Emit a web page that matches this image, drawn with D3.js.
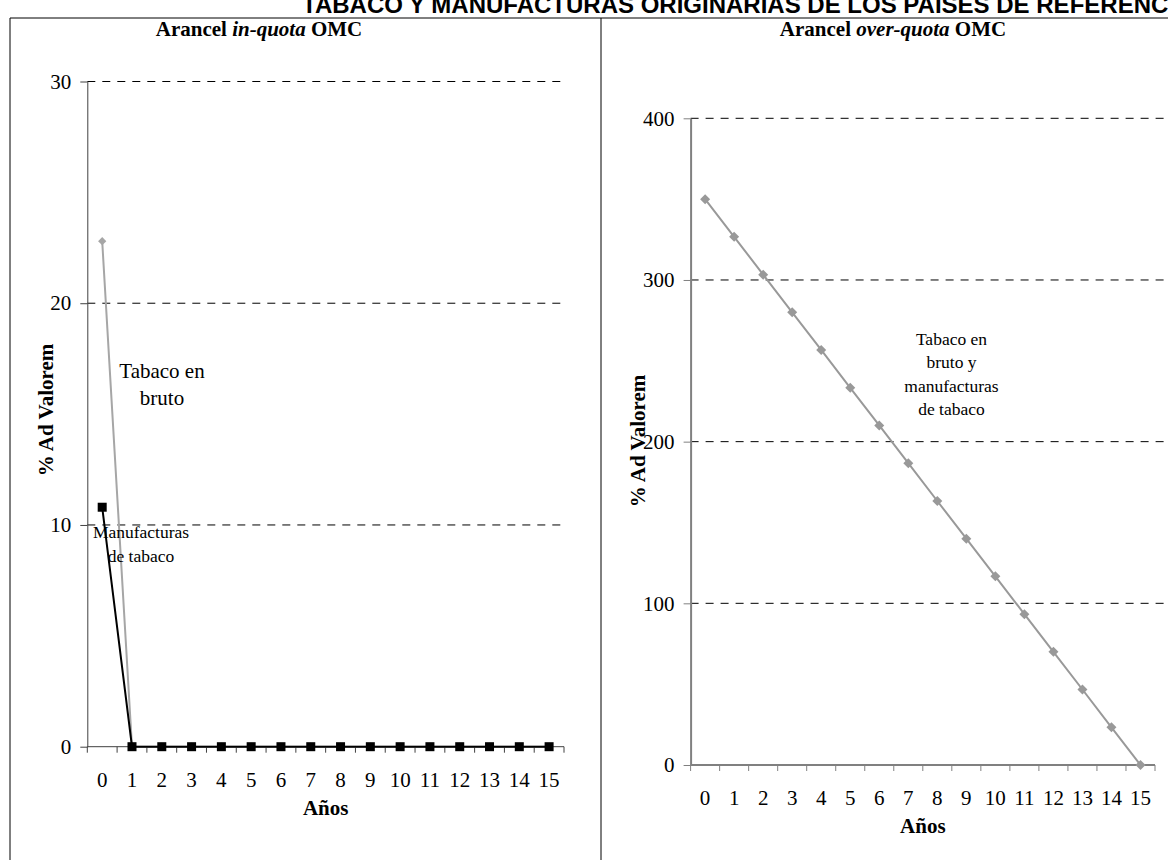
<!DOCTYPE html>
<html><head><meta charset="utf-8">
<script src="https://cdn.jsdelivr.net/npm/d3@7"></script>
<style>
html,body{margin:0;padding:0;background:#fff;overflow:hidden;}
svg{display:block;}
text{font-family:"Liberation Serif","Times New Roman",serif;fill:#000;}
</style></head>
<body>
<svg id="c" width="1168" height="860"></svg>
<script>
// ---- data ----
const years = ["0","1","2","3","4","5","6","7","8","9","10","11","12","13","14","15"];
const inQuotaBruto = [22.8,0,0,0,0,0,0,0,0,0,0,0,0,0,0,0];
const inQuotaManuf = [10.8,0,0,0,0,0,0,0,0,0,0,0,0,0,0,0];
const overQuota = [350,326.7,303.3,280,256.7,233.3,210,186.7,163.3,140,116.7,93.3,70,46.7,23.3,0];
const leftTicks = [0,10,20,30];
const rightTicks = [0,100,200,300,400];
const mainTitle = "TABACO Y MANUFACTURAS ORIGINARIAS DE LOS PAÍSES DE REFERENCIA";
const leftLabelBruto = ["Tabaco en","bruto"];
const leftLabelManuf = ["Manufacturas","de tabaco"];
const rightLabel = ["Tabaco en","bruto y","manufacturas","de tabaco"];

const svg = d3.select("#c");

// main title
svg.append("text").attr("x",302).attr("y",12.5)
  .style("font-family","'Liberation Sans',Arial,sans-serif")
  .style("font-weight","bold").style("font-size","24px")
  .text(mainTitle);

// frame
svg.append("path").attr("d","M10,860V18H1168M601,18V860")
  .attr("fill","none").attr("stroke","#000").attr("stroke-width",1);

const sq = d3.symbol(d3.symbolSquare);

function panel(opt){
  const g = svg.append("g");
  const x = d3.scaleBand().domain(years).range([opt.x0,opt.x1]).padding(0);
  const y = d3.scaleLinear().domain([0,opt.ymax]).range([opt.y0,opt.y1]);
  // title
  const t = g.append("text").attr("x",opt.tx).attr("y",36).attr("text-anchor","middle")
    .style("font-weight","bold").style("font-size","21px");
  t.append("tspan").text("Arancel ");
  t.append("tspan").style("font-style","italic").text(opt.italic);
  t.append("tspan").text(" OMC");
  // gridlines
  g.selectAll("line.grid").data(opt.ticks.filter(d=>d>0)).enter().append("line")
    .attr("x1",opt.x0).attr("x2",opt.gx1).attr("y1",d=>y(d)).attr("y2",d=>y(d))
    .attr("stroke","#000").attr("stroke-width",1).attr("stroke-dasharray","8,7");
  // y axis
  const ya = g.append("g").attr("transform",`translate(${opt.x0},0)`)
    .call(d3.axisLeft(y).tickValues(opt.ticks).tickSize(7).tickSizeOuter(0).tickPadding(9));
  ya.select(".domain").attr("stroke",opt.axisColor).attr("stroke-width",opt.axisW);
  ya.selectAll(".tick line").attr("stroke",opt.axisColor);
  ya.selectAll(".tick text").style("font-family","'Liberation Serif',serif").style("font-size","21px").attr("fill","#000");
  // x axis ticks (boundaries)
  const bounds = d3.range(years.length+1).map(i=>opt.x0+i*x.bandwidth());
  g.append("line").attr("x1",opt.x0).attr("x2",opt.x1).attr("y1",opt.y0).attr("y2",opt.y0)
    .attr("stroke",opt.axisColor).attr("stroke-width",opt.axisW);
  g.selectAll("line.xt").data(bounds).enter().append("line")
    .attr("x1",d=>d).attr("x2",d=>d).attr("y1",opt.y0).attr("y2",opt.y0+6)
    .attr("stroke",opt.axisColor).attr("stroke-width",1);
  g.selectAll("text.xl").data(years).enter().append("text")
    .attr("x",d=>x(d)+x.bandwidth()/2).attr("y",opt.y0+40).attr("text-anchor","middle")
    .style("font-size","21px").text(d=>d);
  g.append("text").attr("x",(opt.x0+opt.x1)/2).attr("y",opt.y0+68).attr("text-anchor","middle")
    .style("font-weight","bold").style("font-size","21px").text("Años");
  // y title
  g.append("text").attr("transform",`translate(${opt.ytx},${opt.yty}) rotate(-90)`)
    .attr("text-anchor","middle").style("font-weight","bold").style("font-size","21px").text("% Ad Valorem");
  return {g,x,y};
}

// left panel
const L = panel({x0:87.3,x1:564,gx1:565,y0:746.7,y1:81.5,ymax:30,ticks:leftTicks,
  tx:259,italic:"in-quota",axisColor:"#404040",axisW:1,ytx:53,yty:410});
const cxL = (d,i)=>L.x(years[i])+L.x.bandwidth()/2;
const lineL = d3.line().x(cxL).y(d=>L.y(d));
L.g.append("path").attr("d",lineL(inQuotaBruto)).attr("fill","none").attr("stroke","#a6a6a6").attr("stroke-width",2);
L.g.selectAll("path.dm").data(inQuotaBruto).enter().append("path")
  .attr("d",sq.size(34)())
  .attr("transform",(d,i)=>`translate(${cxL(d,i)},${L.y(d)}) rotate(45)`)
  .attr("fill","#a6a6a6");
L.g.append("path").attr("d",lineL(inQuotaManuf)).attr("fill","none").attr("stroke","#000").attr("stroke-width",2);
L.g.selectAll("rect.sq").data(inQuotaManuf).enter().append("rect")
  .attr("x",(d,i)=>cxL(d,i)-4.5).attr("y",d=>L.y(d)-4.5)
  .attr("width",9).attr("height",9).attr("fill","#000");
leftLabelBruto.forEach((s,i)=>L.g.append("text").attr("x",162).attr("y",378+i*27)
  .attr("text-anchor","middle").style("font-size","21px").text(s));
leftLabelManuf.forEach((s,i)=>L.g.append("text").attr("x",141).attr("y",538+i*24)
  .attr("text-anchor","middle").style("font-size","17.5px").text(s));

// right panel
const R = panel({x0:690.6,x1:1155,gx1:1168,y0:765,y1:118.3,ymax:400,ticks:rightTicks,
  tx:893,italic:"over-quota",axisColor:"#808080",axisW:2,ytx:645,yty:441});
const cxR = (d,i)=>R.x(years[i])+R.x.bandwidth()/2;
const lineR = d3.line().x(cxR).y(d=>R.y(d));
R.g.append("path").attr("d",lineR(overQuota)).attr("fill","none").attr("stroke","#999").attr("stroke-width",2);
R.g.selectAll("path.dm").data(overQuota).enter().append("path")
  .attr("d",sq.size(50)())
  .attr("transform",(d,i)=>`translate(${cxR(d,i)},${R.y(d)}) rotate(45)`)
  .attr("fill","#999");
rightLabel.forEach((s,i)=>R.g.append("text").attr("x",951.5).attr("y",345+i*23.3)
  .attr("text-anchor","middle").style("font-size","17.5px").text(s));
</script>
</body></html>
